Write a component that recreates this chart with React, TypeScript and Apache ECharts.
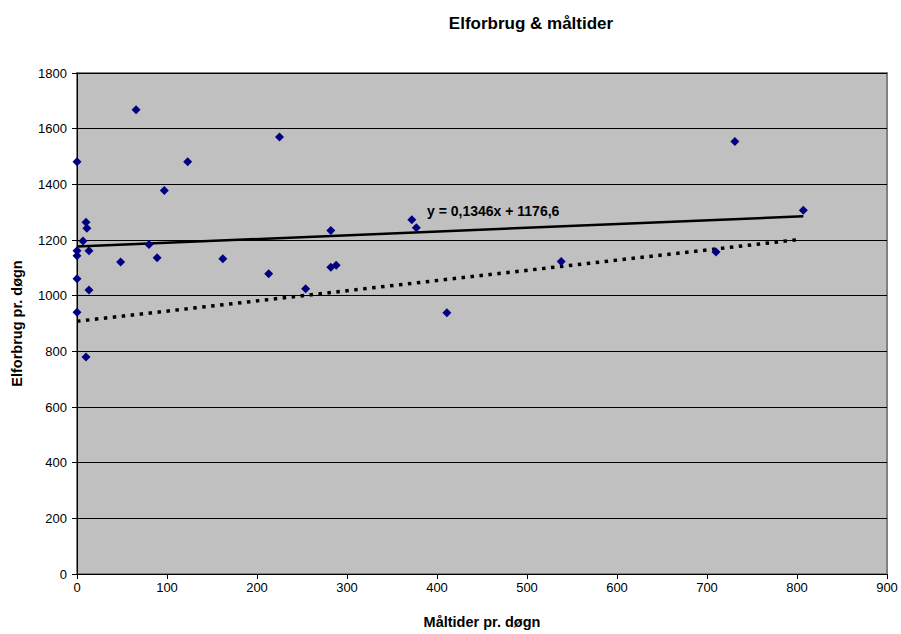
import React, { useEffect, useRef } from "react";
import * as echarts from "echarts";

const xValues = [0, 123, 97, 10, 11, 6.7, 0, 0, 13.3, 80, 48.5, 89, 162, 0, 13.3, 0, 10, 65.6, 225, 213, 282, 282, 288, 254, 372, 377, 411, 538, 710, 807, 731];
const yValues = [1481, 1481, 1378, 1264, 1242, 1196, 1161, 1143, 1161, 1184, 1121, 1136, 1133, 1061, 1020, 940, 780, 1668, 1570, 1079, 1234, 1102, 1109, 1025, 1273, 1244, 939, 1123, 1157, 1307, 1554];

const trendSlope = 0.1346;
const trendIntercept = 1176.6;
const trendXRange = [0, 807];
const dottedLine = [[0, 908], [803, 1202]];

const title = "Elforbrug & måltider";
const xName = "Måltider pr. døgn";
const yName = "Elforbrug pr. døgn";
const trendLabel = "y = 0,1346x + 1176,6";

export default function App() {
  const ref = useRef<HTMLDivElement>(null);
  useEffect(() => {
    if (!ref.current) return;
    const chart = echarts.init(ref.current, null, { renderer: "svg" });
    const font = "Liberation Sans, Arial, sans-serif";
    const scatter = xValues.map((x, i) => [x, yValues[i]]);
    const trend = trendXRange.map((x) => [x, trendSlope * x + trendIntercept]);
    chart.setOption({
      animation: false,
      backgroundColor: "#ffffff",
      title: {
        text: title,
        left: 526,
        textAlign: "center",
        top: 10,
        textStyle: { fontFamily: font, fontSize: 17, fontWeight: "bold", color: "#000" },
      },
      grid: {
        left: 77,
        right: 14,
        top: 73,
        bottom: 55,
        show: true,
        backgroundColor: "#C0C0C0",
        borderColor: "#808080",
        borderWidth: 2,
      },
      xAxis: {
        type: "value",
        min: 0,
        max: 900,
        interval: 100,
        name: xName,
        nameLocation: "middle",
        nameGap: 40,
        nameTextStyle: { fontFamily: font, fontSize: 14.5, fontWeight: "bold", color: "#000" },
        axisLine: { show: true, lineStyle: { color: "#000", width: 1 } },
        axisTick: { show: true, length: 5, lineStyle: { color: "#000" } },
        axisLabel: { fontFamily: font, fontSize: 13, color: "#000", margin: 7 },
        splitLine: { show: false },
      },
      yAxis: {
        type: "value",
        min: 0,
        max: 1800,
        interval: 200,
        name: yName,
        nameLocation: "middle",
        nameGap: 53,
        nameTextStyle: { fontFamily: font, fontSize: 14.5, fontWeight: "bold", color: "#000" },
        axisLine: { show: true, lineStyle: { color: "#000", width: 1 } },
        axisTick: { show: true, length: 5, lineStyle: { color: "#000" } },
        axisLabel: { fontFamily: font, fontSize: 13, color: "#000", margin: 10, formatter: (v: number) => String(v) },
        splitLine: { show: true, lineStyle: { color: "#000", width: 1 } },
      },
      series: [
        {
          type: "line",
          data: dottedLine,
          symbol: "none",
          lineStyle: { color: "#000", width: 3.5, type: [3.5, 5.5] },
          z: 2,
        },
        {
          type: "line",
          data: trend,
          symbol: "none",
          lineStyle: { color: "#000", width: 2.5 },
          z: 2,
        },
        {
          type: "scatter",
          data: scatter,
          symbol: "diamond",
          symbolSize: 9,
          itemStyle: { color: "#000080", opacity: 1 },
          z: 3,
        },
      ],
      graphic: [
        {
          type: "text",
          left: 427,
          top: 204,
          style: { text: trendLabel, fontFamily: font, fontSize: 14, fontWeight: "bold", fill: "#000" },
          z: 10,
        },
      ],
    });
    return () => chart.dispose();
  }, []);
  return <div ref={ref} style={{ position: "absolute", left: 0, top: 0, width: 901, height: 634 }} />;
}
